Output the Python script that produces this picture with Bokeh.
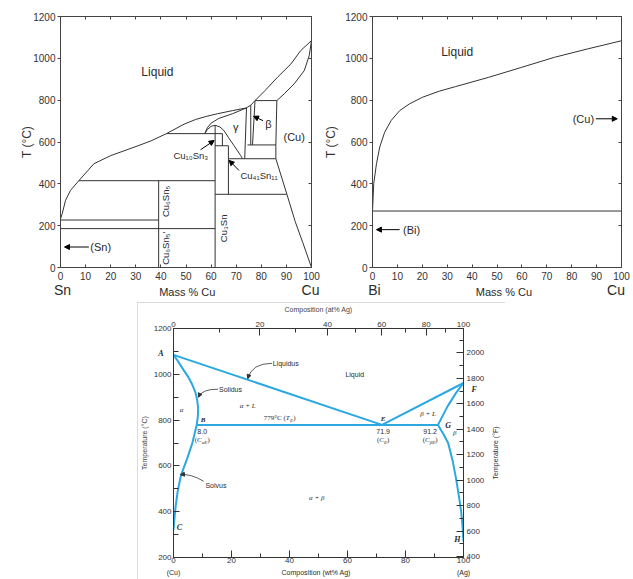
import math
from bokeh.plotting import figure
from bokeh.models import Range1d, LinearAxis, FixedTicker, Label, Arrow, NormalHead, Spacer
from bokeh.layouts import column, row
from bokeh.embed import file_html
from bokeh.resources import INLINE

# ---------------- Cu-Sn (mass % Cu, T in C) ----------------
cusn_liq_x = [0, 0.7, 2, 4, 7.3, 13.3, 20, 29.3, 36, 42.2, 49.2, 53.9, 58, 62.5, 68.5, 74.1, 75.8, 77.5]
cusn_liq_t = [232, 258, 321, 369, 415, 496, 535, 575, 605, 640, 685, 708, 722, 735, 750, 763, 776, 798]
cusn_liq2_x = [77.5, 81.5, 86.4, 91.8, 95.7, 100]
cusn_liq2_t = [798, 846, 909, 973, 1037, 1085]
cusn_sol_x = [86.2, 89.1, 93.1, 97.1, 99.1, 100]
cusn_sol_t = [798, 830, 878, 941, 1013, 1085]
cusn_solv_x = [86.2, 86.0, 85.8, 85.8, 90.2, 93.5, 96.5, 100]
cusn_solv_t = [798, 700, 586, 520, 350, 220, 120, 0]
gamma_dome_x = [57.5, 58.5, 60, 61.6, 63.5, 65.1, 67, 69.1, 71.8, 72.5]
gamma_dome_t = [640, 660, 675, 680, 672, 655, 620, 583, 535, 520]
gamma_sol_x = [57.5, 58.5, 60, 63.1, 68.5, 74.1]
gamma_sol_t = [640, 668, 690, 713, 735, 763]
iso_t = [798, 640, 586, 582, 520, 415, 350, 227, 186]
iso_x0 = [77.5, 42.2, 74.5, 61.6, 67.1, 7.3, 61.6, 0, 0]
iso_x1 = [86.2, 64.5, 85.8, 66.9, 85.8, 61.6, 90.2, 39.1, 61.6]
vl_x0 = [39.1, 61.6, 66.9, 64.5, 74.1, 75.8, 77.5]
vl_x1 = [39.1, 61.6, 66.9, 64.5, 73.4, 75.8, 76.5]
vl_t0 = [0, 0, 350, 582, 763, 776, 798]
vl_t1 = [415, 680, 582, 640, 520, 586, 586]
cusn_end_labels = ["Sn", "Cu"]
cusn_end_pos = [0.8, 99.6]

# ---------------- Bi-Cu ----------------
bicu_liq_x = [0, 0.5, 1.6, 2.9, 4.9, 7.5, 10.9, 14.8, 20.1, 26.8, 33.4, 46.6, 59.9, 73.1, 86.4, 100]
bicu_liq_t = [270, 401, 496, 576, 647, 703, 750, 782, 814, 843, 865, 909, 957, 1005, 1045, 1084]
bicu_eut_t = 270
bicu_end_labels = ["Bi", "Cu"]
bicu_end_pos = [0.75, 97.8]

# ---------------- Ag-Cu (wt% Ag) ----------------
agcu_liqA_x = [0, 71.9]
agcu_liqA_t = [1085, 779]
agcu_liqB_x = [71.9, 100]
agcu_liqB_t = [779, 962]
agcu_solA_x = [0, 1.5, 3.1, 5, 6.5, 7.6, 8.2, 8.5, 8.4, 8.0]
agcu_solA_t = [1085, 1058, 1026, 990, 954, 920, 885, 852, 815, 779]
agcu_solvA_x = [8.0, 6.5, 4.8, 2.6, 1.45, 0.7, 0.25, 0]
agcu_solvA_t = [779, 700, 635, 560, 490, 420, 360, 320]
agcu_solB_x = [91.2, 94.5, 97.5, 100]
agcu_solB_t = [779, 860, 920, 962]
agcu_solvB_x = [91.2, 93, 94.7, 96.3, 97.5, 98.5, 99.2, 99.7, 100]
agcu_solvB_t = [779, 740, 700, 620, 540, 460, 400, 330, 270]
agcu_eut_t = 779
agcu_eut_x = [8.0, 91.2]
at_major = [0, 20, 40, 60, 80, 100]
at_minor = [10, 30, 50, 70, 90]
M_AG, M_CU = 107.87, 63.55
agcu_bottom_labels = ["(Cu)", "Composition (wt% Ag)", "(Ag)"]
agcu_bottom_pos = [0, 49.2, 100]

SANS = "Liberation Sans"
SERIF = "Liberation Serif"
INK = "#2a2a2a"
BLUE = "#2BA8E0"


def at_to_wt(a):
    return round(100.0 * a * M_AG / (a * M_AG + (100 - a) * M_CU), 4)


def lab(p, x, y, text, size, font=SANS, align="center", baseline="middle",
        angle=0.0, style="normal", color=INK, xo=0, yo=0):
    p.add_layout(Label(x=x, y=y, text=text, text_font_size=f"{size}px", text_font=font,
                       text_align=align, text_baseline=baseline, angle=angle,
                       text_font_style=style, text_color=color, x_offset=xo, y_offset=yo))


CW = {"(": 0.333, ")": 0.333, "C": 0.667, "T": 0.611, "E": 0.611, "α": 0.55, "β": 0.5,
      "°": 0.4, " ": 0.25, "7": 0.5, "9": 0.5}


def rich(p, x, y, parts, font=SERIF, color=INK):
    widths = [sum(CW.get(ch, 0.55) for ch in t) * s for (t, s, st, dy) in parts]
    off = -sum(widths) / 2.0
    for (t, s, st, dy), w in zip(parts, widths):
        lab(p, x, y, t, s, font=font, align="left", style=st, color=color, xo=off, yo=dy)
        off += w


def arrow(p, x0, y0, x1, y1, size=5, width=1.0, color="black"):
    p.add_layout(Arrow(end=NormalHead(size=size, fill_color=color, line_color=color),
                       x_start=x0, y_start=y0, x_end=x1, y_end=y1,
                       line_width=width, line_color=color))


def bare_axis(ticks, **kw):
    return LinearAxis(ticker=FixedTicker(ticks=ticks), major_tick_in=3, major_tick_out=0,
                      minor_tick_line_color=None, major_label_text_font_size="1px",
                      major_label_text_color=None, major_label_standoff=0,
                      axis_line_color="#444", major_tick_line_color="#444", **kw)


def text_axis(ticks, labels, size, standoff, font=SANS, style="normal", color=INK, orient=None, **kw):
    ax = LinearAxis(ticker=FixedTicker(ticks=list(ticks)),
                    major_label_overrides=dict(zip(ticks, labels)),
                    major_label_text_font_size=f"{size}px", major_label_text_font=font,
                    major_label_text_font_style=style, major_label_text_color=color,
                    major_label_standoff=standoff, axis_line_color=None,
                    major_tick_line_color=None, minor_tick_line_color=None,
                    major_tick_in=0, major_tick_out=0, **kw)
    if orient is not None:
        ax.major_label_orientation = orient
    return ax


def style_top(p, ylabel_standoff, end_pos, end_labels, mid_pos):
    p.xgrid.visible = False
    p.ygrid.visible = False
    p.outline_line_color = "#444"
    for ax in (p.xaxis[0], p.yaxis[0]):
        ax.axis_line_color = "#444"
        ax.major_tick_line_color = "#444"
        ax.minor_tick_line_color = None
        ax.major_label_text_font = SANS
        ax.major_label_text_font_size = "10px"
        ax.major_label_text_color = "#333"
    p.xaxis.ticker = FixedTicker(ticks=list(range(0, 101, 10)))
    p.xaxis.major_tick_in = 3
    p.xaxis.major_tick_out = 0
    p.xaxis.major_label_standoff = 4
    p.yaxis.ticker = FixedTicker(ticks=list(range(0, 1201, 200)))
    p.yaxis.major_tick_in = 0
    p.yaxis.major_tick_out = 3
    p.yaxis.major_label_standoff = 2
    p.yaxis.axis_label = "T (°C)"
    p.yaxis.axis_label_text_font = SANS
    p.yaxis.axis_label_text_font_style = "normal"
    p.yaxis.axis_label_text_font_size = "12px"
    p.yaxis.axis_label_text_color = "#333"
    p.yaxis.axis_label_standoff = ylabel_standoff
    p.add_layout(bare_axis(list(range(0, 101, 10))), "above")
    p.add_layout(bare_axis(list(range(0, 1201, 200))), "right")
    # row under the numbers: element names, and "Mass % Cu" pulled up onto the same line
    p.add_layout(text_axis(end_pos, end_labels, 14, -1), "below")
    p.add_layout(text_axis([mid_pos], ["Mass % Cu"], 11, -15), "below")


# ================= Panel 1: Cu-Sn =================
p1 = figure(width=321, height=302, title=None, output_backend="svg", toolbar_location=None,
            x_range=Range1d(0, 100), y_range=Range1d(0, 1200),
            min_border_left=60, min_border_right=10, min_border_top=16, min_border_bottom=35)
style_top(p1, -4, cusn_end_pos, cusn_end_labels, 50.5)
LC = "#333"
p1.line(cusn_liq_x, cusn_liq_t, line_color=LC, line_width=1)
p1.line(cusn_liq2_x, cusn_liq2_t, line_color=LC, line_width=1)
p1.line(cusn_sol_x, cusn_sol_t, line_color=LC, line_width=1)
p1.line(cusn_solv_x, cusn_solv_t, line_color=LC, line_width=1)
p1.line(gamma_dome_x, gamma_dome_t, line_color=LC, line_width=1)
p1.line(gamma_sol_x, gamma_sol_t, line_color=LC, line_width=1)
p1.segment(x0=iso_x0, y0=iso_t, x1=iso_x1, y1=iso_t, line_color=LC, line_width=1)
p1.segment(x0=vl_x0, y0=vl_t0, x1=vl_x1, y1=vl_t1, line_color=LC, line_width=1)

lab(p1, 38.6, 933, "Liquid", 12)
lab(p1, 69.8, 670, "γ", 11)
lab(p1, 82.8, 687, "β", 11)
lab(p1, 93.1, 623, "(Cu)", 11)
lab(p1, 51.9, 536, "Cu₁₀Sn₃", 9.5)
lab(p1, 79.1, 440, "Cu₄₁Sn₁₁", 9.5)
lab(p1, 41.9, 316, "Cu₆Sn₅", 9.5, angle=math.pi / 2)
lab(p1, 41.9, 92, "Cu₆Sn₅'", 9.5, angle=math.pi / 2)
lab(p1, 64.9, 187, "Cu₃Sn", 9.5, angle=math.pi / 2)
lab(p1, 16.0, 98, "(Sn)", 11)
arrow(p1, 55.8, 563, 61.2, 607)
arrow(p1, 71.1, 464, 67.2, 512)
arrow(p1, 80.7, 702, 76.9, 723)
arrow(p1, 11.3, 98, 1.6, 98)

# ================= Panel 2: Bi-Cu =================
p2 = figure(width=312, height=302, title=None, output_backend="svg", toolbar_location=None,
            x_range=Range1d(0, 100), y_range=Range1d(0, 1200),
            min_border_left=48, min_border_right=12, min_border_top=15, min_border_bottom=35)
style_top(p2, 4, bicu_end_pos, bicu_end_labels, 52.8)
p2.line(bicu_liq_x, bicu_liq_t, line_color=LC, line_width=1)
p2.segment(x0=[0], y0=[bicu_eut_t], x1=[100], y1=[bicu_eut_t], line_color=LC, line_width=1)
lab(p2, 34.0, 1028, "Liquid", 12)
lab(p2, 84.7, 711, "(Cu)", 11)
arrow(p2, 89.7, 711, 98.3, 711)
lab(p2, 15.7, 181, "(Bi)", 11)
arrow(p2, 10.9, 181, 1.6, 181)

# ================= Panel 3: Ag-Cu =================
p3 = figure(width=368, height=277, title=None, output_backend="svg", toolbar_location=None,
            x_range=Range1d(0, 100), y_range=Range1d(200, 1200),
            min_border_left=34, min_border_right=37, min_border_top=24, min_border_bottom=22)
p3.extra_y_ranges = {"F": Range1d(200 * 9 / 5 + 32, 1200 * 9 / 5 + 32)}
p3.xgrid.visible = False
p3.ygrid.visible = False
p3.outline_line_color = "#333"
p3.styles = {"outline": "1px solid #cfcfcf", "outline-offset": "-1px"}
FR = "#333"
for ax in (p3.xaxis[0], p3.yaxis[0]):
    ax.axis_line_color = FR
    ax.major_tick_line_color = FR
    ax.minor_tick_line_color = FR
    ax.major_label_text_font = SANS
    ax.major_label_text_font_size = "8px"
    ax.major_label_text_color = "#333"
    ax.major_tick_out = 0
    ax.minor_tick_out = 0
p3.xaxis.ticker = FixedTicker(ticks=list(range(0, 101, 20)), minor_ticks=list(range(10, 100, 20)))
p3.xaxis.major_tick_in = 7
p3.xaxis.minor_tick_in = 4
p3.xaxis.major_label_standoff = 0
p3.yaxis.ticker = FixedTicker(ticks=list(range(200, 1201, 200)), minor_ticks=list(range(300, 1200, 200)))
p3.yaxis.major_tick_in = 6
p3.yaxis.minor_tick_in = 5
p3.yaxis.major_label_standoff = 2
p3.yaxis.axis_label = "Temperature (°C)"
p3.yaxis.axis_label_text_font = SANS
p3.yaxis.axis_label_text_font_style = "normal"
p3.yaxis.axis_label_text_font_size = "7px"
p3.yaxis.axis_label_standoff = 3

topax = LinearAxis(ticker=FixedTicker(ticks=[at_to_wt(a) for a in at_major],
                                      minor_ticks=[at_to_wt(a) for a in at_minor]),
                   major_label_overrides={at_to_wt(a): str(a) for a in at_major},
                   axis_label="Composition (at% Ag)", axis_label_text_font=SANS,
                   axis_label_text_font_style="normal", axis_label_text_font_size="7px",
                   axis_label_standoff=6, major_label_text_font=SANS, major_label_text_font_size="8px",
                   major_label_text_color="#333", major_label_standoff=2,
                   major_tick_in=7, major_tick_out=0, minor_tick_in=4, minor_tick_out=0,
                   axis_line_color=FR, major_tick_line_color=FR, minor_tick_line_color=FR)
p3.add_layout(topax, "above")
rightax = LinearAxis(y_range_name="F",
                     ticker=FixedTicker(ticks=list(range(400, 2201, 200)), minor_ticks=list(range(500, 2200, 200))),
                     major_label_text_font=SANS, major_label_text_font_size="8px", major_label_text_color="#333",
                     major_label_standoff=3, major_tick_in=7, major_tick_out=0, minor_tick_in=4,
                     minor_tick_out=0, axis_line_color=FR, major_tick_line_color=FR, minor_tick_line_color=FR)
p3.add_layout(rightax, "right")
# texts outside the frame, carried by label-only axes
p3.add_layout(text_axis([541], ["Temperature (°F)"], 7, 8, orient=math.pi / 2), "right")
p3.add_layout(text_axis([935], ["F"], 8, -34, font=SERIF, style="bold italic"), "right")
p3.add_layout(text_axis([1091], ["A"], 8, -26, font=SERIF, style="bold italic"), "left")
p3.add_layout(text_axis(agcu_bottom_pos, agcu_bottom_labels, 7, 3), "below")

BW = 2
p3.line(agcu_liqA_x, agcu_liqA_t, line_color=BLUE, line_width=BW)
p3.line(agcu_liqB_x, agcu_liqB_t, line_color=BLUE, line_width=BW)
p3.line(agcu_solA_x, agcu_solA_t, line_color=BLUE, line_width=BW)
p3.line(agcu_solvA_x, agcu_solvA_t, line_color=BLUE, line_width=BW)
p3.line(agcu_solB_x, agcu_solB_t, line_color=BLUE, line_width=BW)
p3.line(agcu_solvB_x, agcu_solvB_t, line_color=BLUE, line_width=BW)
p3.line(agcu_eut_x, [agcu_eut_t, agcu_eut_t], line_color=BLUE, line_width=BW)

# curved pointers
p3.quadratic(x0=[34.0, 15.4, 10.4], y0=[1048, 935, 533], x1=[25.7, 8.7, 2.5], y1=[983, 902, 562],
             cx=[27.0, 10.0, 6.0], cy=[1048, 936, 566], line_color="#333", line_width=0.8)
arrow(p3, 25.9, 992, 25.6, 981, size=4, width=0.8, color="#333")
arrow(p3, 8.9, 908, 8.6, 900, size=4, width=0.8, color="#333")
arrow(p3, 3.4, 563, 2.4, 562, size=4, width=0.8, color="#333")

lab(p3, 34.2, 1048, "Liquidus", 7, align="left")
lab(p3, 62.5, 997, "Liquid", 7)
lab(p3, 15.7, 935, "Solidus", 7, align="left")
lab(p3, 2.8, 842, "α", 7, font=SERIF, style="italic")
lab(p3, 25.6, 863, "α + L", 7, font=SERIF, style="italic")
rich(p3, 36.6, 809, [("779°C (", 7, "normal", 0), ("T", 7, "italic", 0), ("E", 5, "italic", -2), (")", 7, "normal", 0)])
lab(p3, 10.2, 802, "B", 7, font=SERIF, style="bold italic")
lab(p3, 9.9, 751, "8.0", 7)
rich(p3, 9.9, 712, [("(", 7, "normal", 0), ("C", 7, "italic", 0), ("αE", 5, "italic", -2), (")", 7, "normal", 0)])
lab(p3, 72.3, 804, "E", 7, font=SERIF, style="bold italic")
lab(p3, 72.3, 751, "71.9", 7)
rich(p3, 72.3, 712, [("(", 7, "normal", 0), ("C", 7, "italic", 0), ("E", 5, "italic", -2), (")", 7, "normal", 0)])
lab(p3, 87.8, 826, "β + L", 7, font=SERIF, style="italic")
lab(p3, 88.5, 751, "91.2", 7)
rich(p3, 88.5, 712, [("(", 7, "normal", 0), ("C", 7, "italic", 0), ("βE", 5, "italic", -2), (")", 7, "normal", 0)])
lab(p3, 94.7, 776, "G", 8, font=SERIF, style="bold italic")
lab(p3, 97.0, 743, "β", 7, font=SERIF, style="italic")
lab(p3, 11.0, 515, "Solvus", 7, align="left")
lab(p3, 49.4, 461, "α + β", 7, font=SERIF, style="italic")
lab(p3, 2.0, 330, "C", 8, font=SERIF, style="bold italic")
lab(p3, 97.9, 280, "H", 8, font=SERIF, style="bold italic")

layout = column(row(p1, p2), row(Spacer(width=137, height=277), p3))
open("out.html", "w").write(file_html(layout, INLINE))
